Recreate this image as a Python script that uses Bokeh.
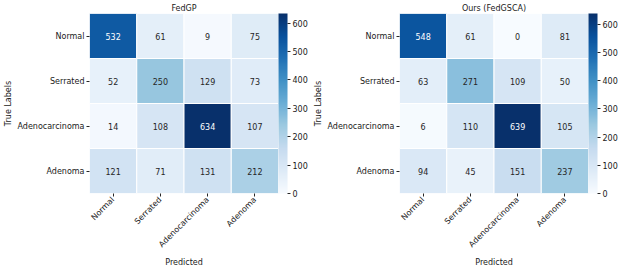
from bokeh.plotting import figure
from bokeh.models import LinearColorMapper, ColorBar, FixedTicker, ColumnDataSource, FactorRange
from bokeh.layouts import row
from bokeh.palettes import Blues256
from bokeh.embed import file_html
from bokeh.resources import INLINE
from math import pi

labels = ["Normal", "Serrated", "Adenocarcinoma", "Adenoma"]
fedgp = [[532, 61, 9, 75], [52, 250, 129, 73], [14, 108, 634, 107], [121, 71, 131, 212]]
ours = [[548, 61, 0, 81], [63, 271, 109, 50], [6, 110, 639, 105], [94, 45, 151, 237]]
titles = ["FedGP", "Ours (FedGSCA)"]
cbar_ticks = [0, 100, 200, 300, 400, 500, 600]

FONT = "DejaVu Sans"
FS = "8px"


def panel(mat, title, left_border):
    xs, ys, vals, tcol = [], [], [], []
    vmax = max(max(r) for r in mat)
    for i, t in enumerate(labels):
        for j, pr in enumerate(labels):
            xs.append(pr)
            ys.append(t)
            vals.append(mat[i][j])
            tcol.append("white" if mat[i][j] > 0.6 * vmax else "#262626")
    src = ColumnDataSource(dict(x=xs, y=ys, v=vals, s=[str(v) for v in vals], c=tcol))
    mapper = LinearColorMapper(palette=list(Blues256[::-1]), low=0, high=vmax)
    p = figure(x_range=FactorRange(*labels), y_range=FactorRange(*labels[::-1]),
               frame_width=189, frame_height=180, output_backend="svg", toolbar_location=None,
               min_border_left=left_border, min_border_right=0, min_border_top=3, min_border_bottom=0,
               title=title)
    p.rect("x", "y", 1, 1, source=src, fill_color={"field": "v", "transform": mapper},
           line_color="white", line_width=1)
    p.text("x", "y", text="s", source=src, text_color="c", text_align="center",
           text_baseline="middle", text_font_size=FS, text_font={"value": FONT})
    p.title.align = "center"
    p.title.text_font = FONT
    p.title.text_font_size = FS
    p.title.text_font_style = "normal"
    p.title.text_color = "#1a1a1a"
    p.title.standoff = 2
    p.grid.grid_line_color = None
    p.outline_line_color = None
    for ax in (p.xaxis, p.yaxis):
        ax.axis_line_color = None
        ax.major_tick_in = 0
        ax.major_tick_out = 3
        ax.major_tick_line_color = "#262626"
        ax.major_label_text_font = FONT
        ax.major_label_text_font_size = FS
        ax.major_label_text_color = "#1a1a1a"
        ax.axis_label_text_font = FONT
        ax.axis_label_text_font_size = FS
        ax.axis_label_text_color = "#1a1a1a"
        ax.axis_label_text_font_style = "normal"
        ax.major_label_standoff = 2
    p.xaxis.major_label_orientation = pi / 4
    p.xaxis.axis_label = "Predicted"
    p.yaxis.axis_label = "True Labels"
    p.xaxis.axis_label_standoff = 3
    p.yaxis.axis_label_standoff = 2
    cb = ColorBar(color_mapper=mapper, ticker=FixedTicker(ticks=cbar_ticks), width=9,
                  padding=0, margin=12, border_line_color=None, bar_line_color=None,
                  major_tick_in=0, major_tick_out=3, major_tick_line_color="#262626",
                  major_label_text_font=FONT, major_label_text_font_size=FS,
                  major_label_text_color="#1a1a1a",
                  label_standoff=2, background_fill_alpha=0)
    p.add_layout(cb, "right")
    return p


p1 = panel(fedgp, titles[0], 76)
p2 = panel(ours, titles[1], 80)
layout = row(p1, p2)
open("out.html", "w").write(file_html(layout, INLINE))
